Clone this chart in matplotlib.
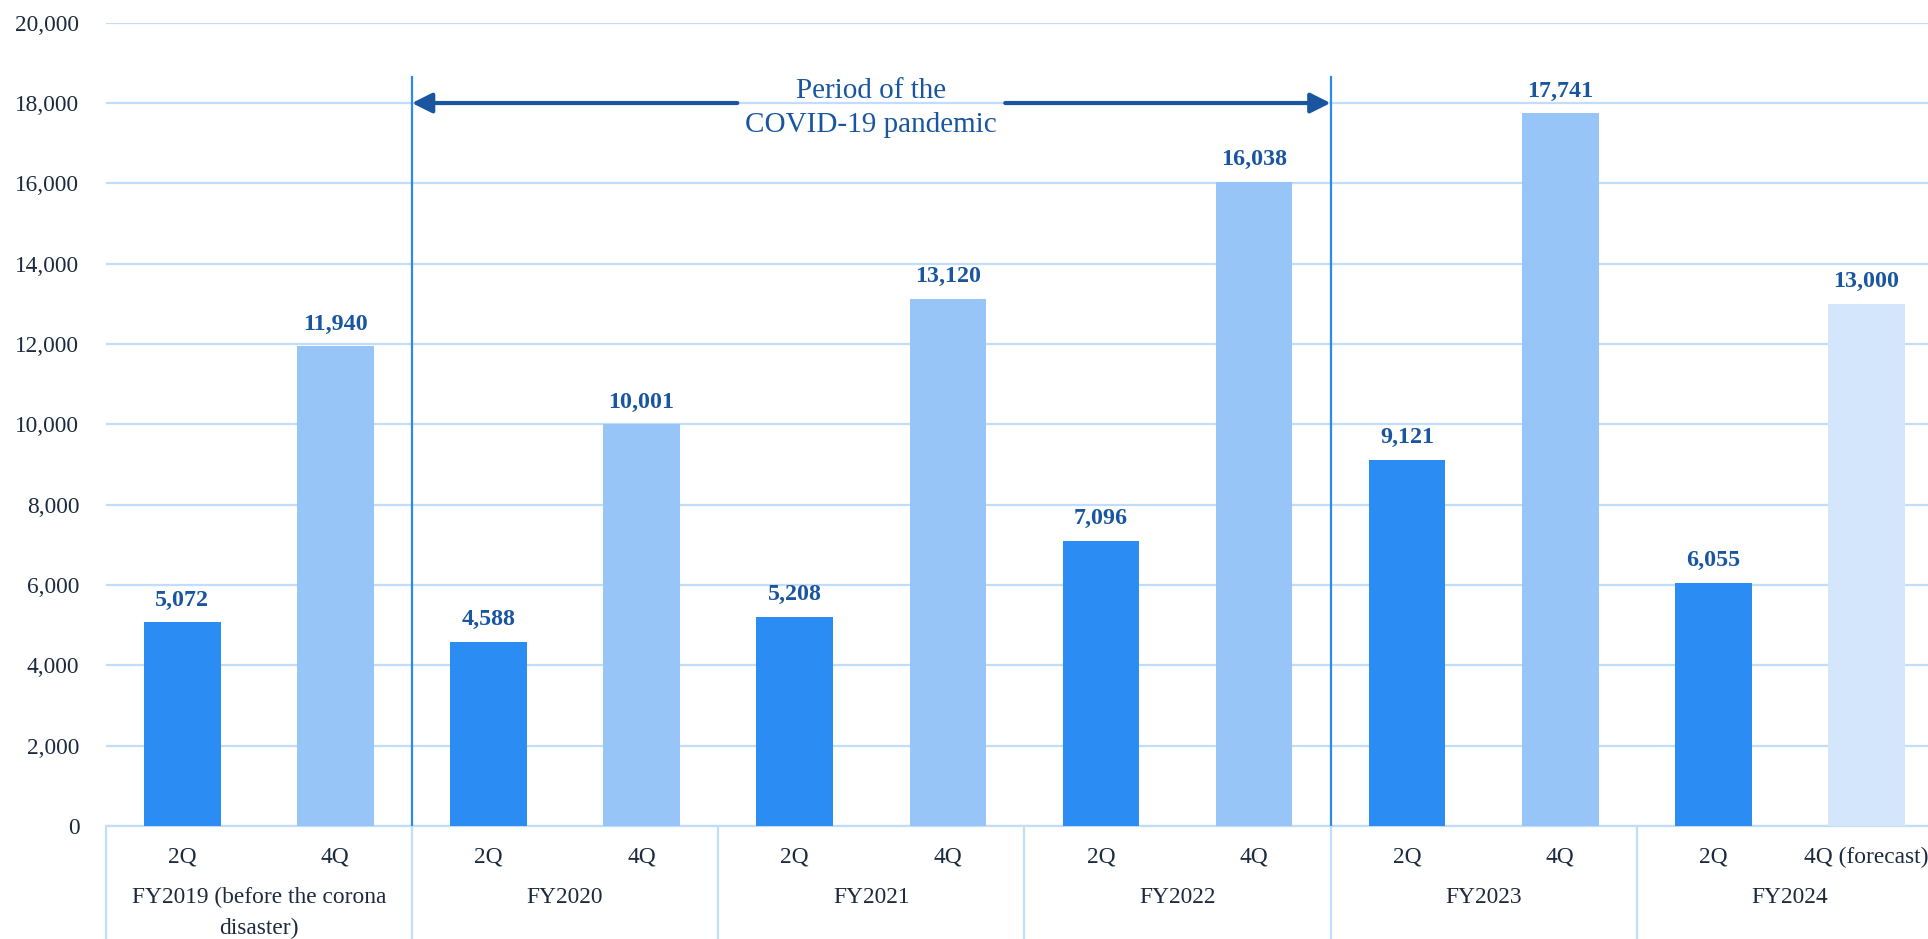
import matplotlib
matplotlib.use("Agg")
import matplotlib.pyplot as plt

plt.rcParams['font.family'] = ['Liberation Serif', 'DejaVu Serif']

fiscal_years = ["FY2019 (before the corona\ndisaster)", "FY2020", "FY2021", "FY2022", "FY2023", "FY2024"]
quarters = ["2Q", "4Q", "2Q", "4Q", "2Q", "4Q", "2Q", "4Q", "2Q", "4Q", "2Q", "4Q (forecast)"]
values = [5072, 11940, 4588, 10001, 5208, 13120, 7096, 16038, 9121, 17741, 6055, 13000]
bar_kind = ["2Q", "4Q", "2Q", "4Q", "2Q", "4Q", "2Q", "4Q", "2Q", "4Q", "2Q", "forecast"]
y_ticks = [0, 2000, 4000, 6000, 8000, 10000, 12000, 14000, 16000, 18000, 20000]
covid_start_idx = 1   # first category of the pandemic period
covid_end_idx = 4     # first category after the period
annot_value = 18000
annot_text = "Period of the\nCOVID-19 pandemic"

colors = {"2Q": "#2b8cf3", "4Q": "#97c5f8", "forecast": "#d3e6fb"}
dark_blue = "#1a56a0"
grid_blue = "#c2ddfa"
text_dark = "#1c2a3e"

W, H = 1928, 939
fig = plt.figure(figsize=(W / 100, H / 100), dpi=100)
left_px, right_px, bottom_px, top_px = 105.7, 1943.0, 826.0, 22.7
ax = fig.add_axes([left_px / W, (H - bottom_px) / H, (right_px - left_px) / W, (bottom_px - top_px) / H])

x = list(range(len(values)))
ax.bar(x, values, width=0.5, color=[colors[k] for k in bar_kind], zorder=3)

for xi, v in zip(x, values):
    ax.annotate(f"{v:,}", xy=(xi, v), xytext=(0, 12), textcoords="offset points",
                ha="center", va="baseline", fontsize=17.3, fontweight="bold", color=dark_blue)

ax.set_xlim(-0.5, len(values) - 0.5)
ax.set_ylim(0, 20000)
ax.set_yticks(y_ticks)
ax.set_yticklabels([f"{t:,}" for t in y_ticks], fontsize=16.8, color=text_dark)
ax.tick_params(axis="y", length=0, pad=19)
ax.set_xticks([])
for s in ax.spines.values():
    s.set_visible(False)
ax.yaxis.grid(True, color=grid_blue, lw=1.6, zorder=0)
ax.set_axisbelow(True)

# category frame below the axis
xt = ax.get_xaxis_transform()
n_cat = len(fiscal_years)
bounds = [-0.5 + 2 * i for i in range(n_cat + 1)]
ax.vlines(bounds, -0.15, 0, transform=xt, colors=grid_blue, lw=1.6, clip_on=False)
ax.plot([-0.5, len(values) - 0.5], [0, 0], transform=xt, color=grid_blue, lw=1.6, clip_on=False)

ax_h = bottom_px - top_px
for xi, q in zip(x, quarters):
    ax.text(xi, -(863 - bottom_px) / ax_h, q, transform=xt, ha="center", va="baseline",
            fontsize=16.8, color=text_dark)
line_gap_px = 31
for i, fy in enumerate(fiscal_years):
    n_lines = fy.count("\n") + 1
    base_px = 903 + line_gap_px * (n_lines - 1)   # baseline of the last line
    ax.text(2 * i + 0.5, -(base_px - bottom_px) / ax_h, fy, transform=xt, ha="center", va="baseline",
            fontsize=16.8, color=text_dark, linespacing=1.62)

# pandemic dividers
x0 = bounds[covid_start_idx]
x1 = bounds[covid_end_idx]
for xd in (x0, x1):
    ax.plot([xd, xd], [0, 18650], color="#2a8af0", lw=1.6, zorder=4)

mid = (x0 + x1) / 2
gap = 0.875
ap = dict(arrowstyle="-|>", color=dark_blue, lw=3, mutation_scale=30, shrinkA=0, shrinkB=0)
ax.annotate("", xy=(x0, annot_value), xytext=(mid - gap, annot_value), arrowprops=ap, zorder=5)
ax.annotate("", xy=(x1, annot_value), xytext=(mid + gap, annot_value), arrowprops=ap, zorder=5)
ax.text(mid, 17870, annot_text, ha="center", va="center", fontsize=21,
        color=dark_blue, linespacing=1.4, zorder=5)

fig.savefig("out.png", dpi=100)
